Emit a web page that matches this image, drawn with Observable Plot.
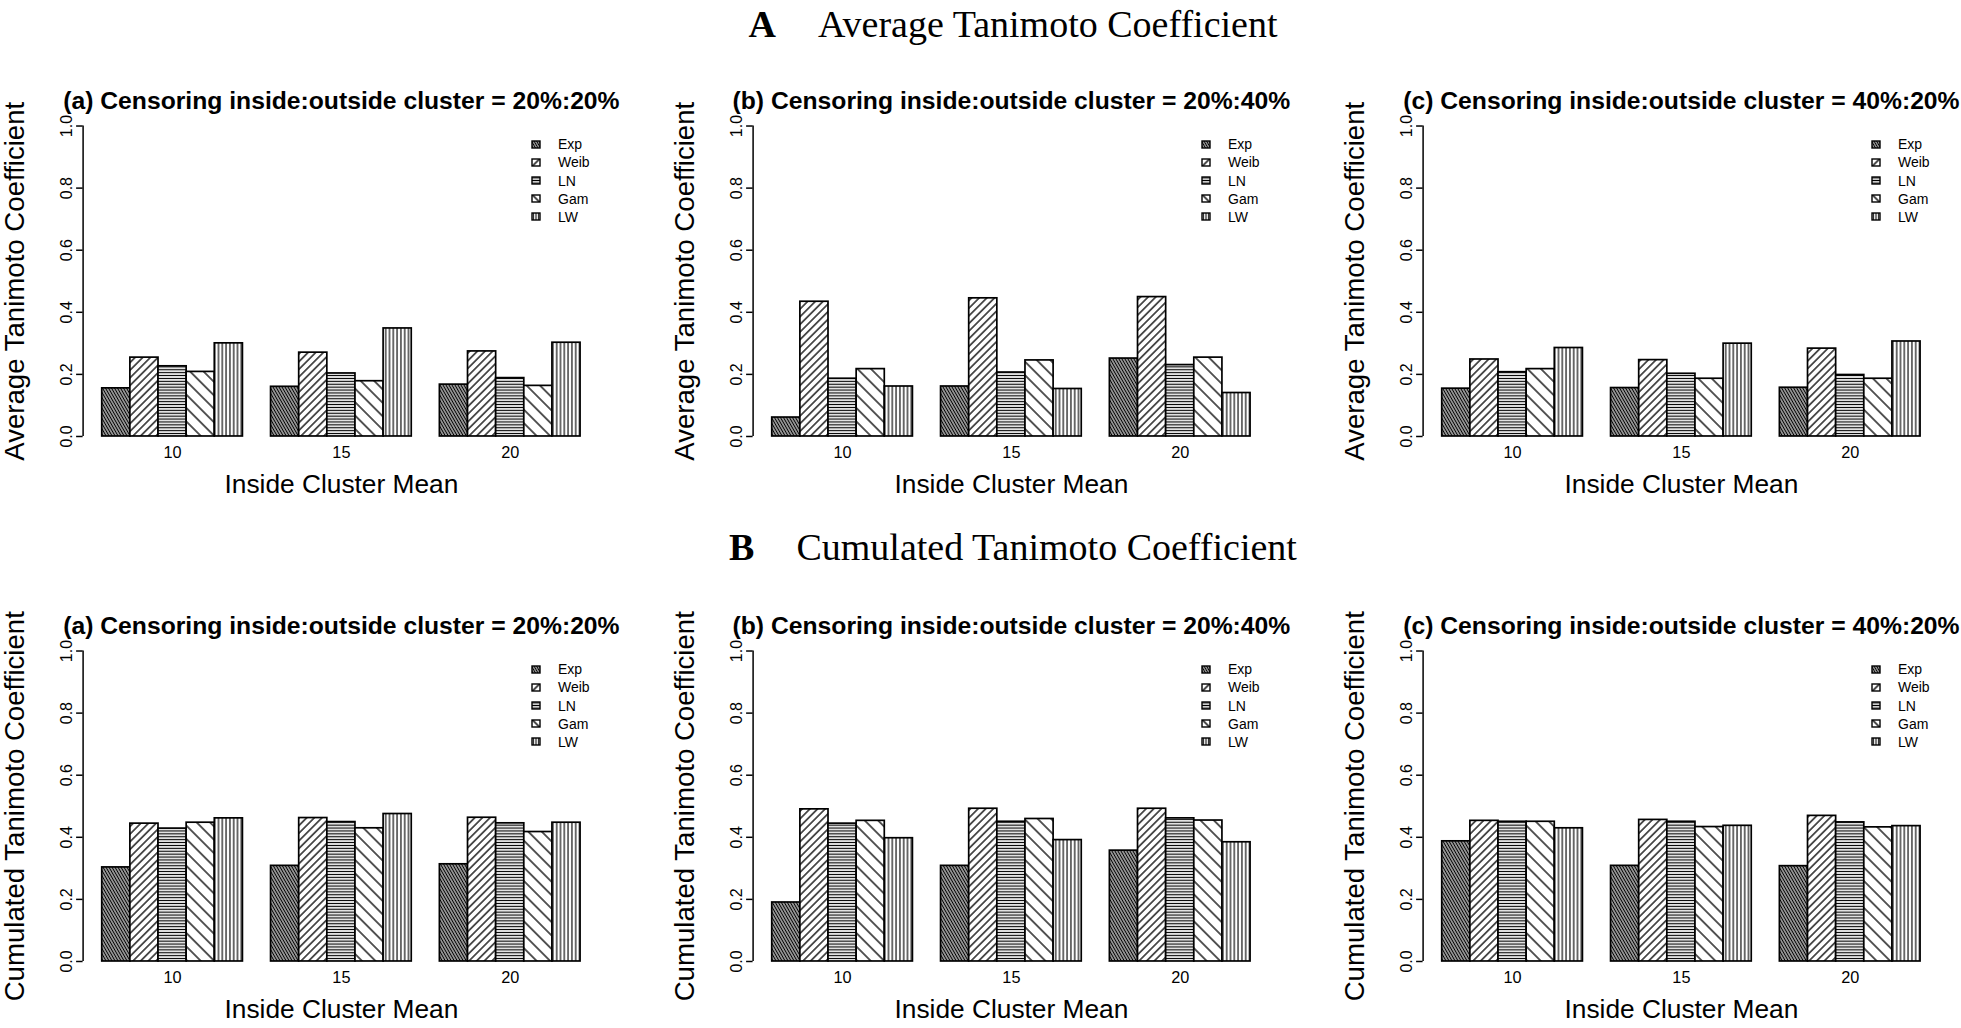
<!DOCTYPE html>
<html><head><meta charset="utf-8">
<script src="https://cdn.jsdelivr.net/npm/d3@7"></script>
<script src="https://cdn.jsdelivr.net/npm/@observablehq/plot@0.6"></script>
<style>
html,body{margin:0;padding:0;background:#fff;width:1961px;height:1028px;overflow:hidden;}
#root{position:relative;width:1961px;height:1028px;overflow:hidden;}
.abs{position:absolute;}
.fig-title{font-family:"Liberation Serif","Times New Roman",serif;font-size:38px;line-height:38px;white-space:nowrap;color:#000;text-align:center;}
.leg{font-family:"Liberation Sans",Arial,sans-serif;font-size:14px;line-height:14px;white-space:nowrap;color:#000;}
svg{overflow:visible;}
</style></head><body><div id="root"></div>
<script>
// ---------------- data ----------------
const groups = ["10", "15", "20"];
const series = ["Exp", "Weib", "LN", "Gam", "LW"];
const yTicks = [0, 0.2, 0.4, 0.6, 0.8, 1.0];
const xLabel = "Inside Cluster Mean";

const figTitleA = "Average Tanimoto Coefficient";
const figTitleB = "Cumulated Tanimoto Coefficient";
const yLabelA = "Average Tanimoto Coefficient";
const yLabelB = "Cumulated Tanimoto Coefficient";
const subTitles = [
  "(a) Censoring inside:outside cluster = 20%:20%",
  "(b) Censoring inside:outside cluster = 20%:40%",
  "(c) Censoring inside:outside cluster = 40%:20%"
];

// rows: groups (10, 15, 20); columns: Exp, Weib, LN, Gam, LW
const avg_a = [[0.155, 0.254, 0.226, 0.208, 0.300], [0.160, 0.270, 0.203, 0.178, 0.348], [0.167, 0.274, 0.188, 0.163, 0.302]];
const avg_b = [[0.061, 0.434, 0.186, 0.217, 0.161], [0.161, 0.445, 0.206, 0.245, 0.153], [0.251, 0.449, 0.230, 0.254, 0.140]];
const avg_c = [[0.154, 0.248, 0.207, 0.217, 0.285], [0.156, 0.246, 0.202, 0.186, 0.299], [0.157, 0.283, 0.198, 0.186, 0.306]];
const cum_a = [[0.303, 0.444, 0.428, 0.447, 0.461], [0.308, 0.462, 0.449, 0.429, 0.475], [0.313, 0.463, 0.445, 0.417, 0.447]];
const cum_b = [[0.190, 0.490, 0.444, 0.453, 0.397], [0.308, 0.492, 0.450, 0.459, 0.391], [0.357, 0.492, 0.461, 0.454, 0.384]];
const cum_c = [[0.387, 0.453, 0.450, 0.450, 0.429], [0.308, 0.456, 0.450, 0.433, 0.437], [0.307, 0.469, 0.448, 0.432, 0.436]];

// ---------------- hatch patterns (style) ----------------
const patSpec = {
  Exp:  {angle: -30, gap: 2.6, w: 1.6},
  Weib: {angle: 45,  gap: 5.4, w: 1.3},
  LN:   {angle: 90,  gap: 2.9, w: 1.2},
  Gam:  {angle: -45, gap: 9.5, w: 1.3},
  LW:   {angle: 0,   gap: 3.8, w: 1.15}
};
const legSpec = {
  Exp:  {angle: -30, gap: 2.2, w: 1.4},
  Weib: {angle: 45,  gap: 12, w: 1.4},
  LN:   {angle: 90,  gap: 2.6, w: 1.2},
  Gam:  {angle: -45, gap: 12, w: 1.4},
  LW:   {angle: 0,   gap: 2.7, w: 1.1}
};
const root = document.getElementById("root");
const NS = "http://www.w3.org/2000/svg";
const defsSvg = document.createElementNS(NS, "svg");
defsSvg.setAttribute("width", 0); defsSvg.setAttribute("height", 0);
defsSvg.style.position = "absolute";
const defs = document.createElementNS(NS, "defs");
function makePattern(id, p, transform) {
  const pat = document.createElementNS(NS, "pattern");
  pat.setAttribute("id", id);
  pat.setAttribute("patternUnits", "userSpaceOnUse");
  pat.setAttribute("width", p.gap); pat.setAttribute("height", p.gap);
  pat.setAttribute("patternTransform", transform);
  const bg = document.createElementNS(NS, "rect");
  bg.setAttribute("x", -1); bg.setAttribute("y", -1);
  bg.setAttribute("width", p.gap + 2); bg.setAttribute("height", p.gap + 2); bg.setAttribute("fill", "white");
  pat.appendChild(bg);
  const ln = document.createElementNS(NS, "line");
  ln.setAttribute("x1", p.gap / 2); ln.setAttribute("x2", p.gap / 2);
  ln.setAttribute("y1", -1); ln.setAttribute("y2", p.gap + 1);
  ln.setAttribute("stroke", "black"); ln.setAttribute("stroke-width", p.w);
  pat.appendChild(ln);
  defs.appendChild(pat);
}
for (const s of series) {
  makePattern("pat-" + s, patSpec[s], `rotate(${patSpec[s].angle})`);
  const q = legSpec[s];
  makePattern("leg-" + s, q, `translate(5,4.5) rotate(${q.angle}) translate(${-q.gap / 2},0)`);
}
defsSvg.appendChild(defs);
root.appendChild(defsSvg);

// ---------------- layout ----------------
const PW = 670, PH = 525;
const M = {left: 82.6, right: 70.8, top: 113.1, bottom: 76.6};

function panel(values, subtitle, ylabel) {
  const per = series.length + 1;
  const rows = [];
  groups.forEach((g, gi) => series.forEach((s, si) =>
    rows.push({group: g, series: s, value: values[gi][si], x1: gi * per + 1 + si, x2: gi * per + 2 + si})));
  const xmin = 1, xmax = groups.length * per;
  const pad = 0.04 * (xmax - xmin);
  const centers = groups.map((g, gi) => ({label: g, x: gi * per + 1 + series.length / 2}));
  return Plot.plot({
    width: PW, height: PH,
    marginLeft: M.left, marginRight: M.right, marginTop: M.top, marginBottom: M.bottom,
    x: {domain: [xmin - pad, xmax + pad], axis: null},
    y: {domain: [-0.04, 1.04], axis: null},
    color: {domain: series, range: series.map(s => `url(#pat-${s})`)},
    style: {fontFamily: "Liberation Sans, Arial, sans-serif", background: "transparent", color: "black", overflow: "visible"},
    marks: [
      Plot.rectY(rows, {x1: "x1", x2: "x2", y1: 0, y2: "value", fill: "series", stroke: "black", strokeWidth: 1.7}),
      Plot.ruleX([xmin - pad], {y1: 0, y2: 1, stroke: "black", strokeWidth: 1.5}),
      Plot.axisY({ticks: yTicks, label: null, tickSize: 6.5, tickRotate: -90, tickPadding: 5, tickFormat: d => d.toFixed(1), fontSize: 16, stroke: "black", strokeWidth: 1.5}),
      Plot.text(centers, {x: "x", text: "label", frameAnchor: "bottom", lineAnchor: "middle", dy: 4, fontSize: 16.3}),
      Plot.text([xLabel], {frameAnchor: "bottom", lineAnchor: "middle", textAnchor: "middle", dy: 36, fontSize: 26.3}),
      Plot.text([ylabel], {frameAnchor: "left", textAnchor: "middle", lineAnchor: "middle", dx: -67.5, rotate: -90, fontSize: 27.6}),
      Plot.text([subtitle], {frameAnchor: "top", textAnchor: "middle", lineAnchor: "middle", dy: -12.5, fontSize: 24.7, fontWeight: "bold"})
    ]
  });
}

function legend(left, top) {
  const rowY = [144, 162.2, 180.4, 198.6, 216.8];
  series.forEach((s, i) => {
    const sq = document.createElementNS(NS, "svg");
    sq.setAttribute("width", 10); sq.setAttribute("height", 9);
    sq.style.position = "absolute";
    sq.style.left = (left + 531) + "px";
    sq.style.top = (top + rowY[i] - 4.5) + "px";
    const r = document.createElementNS(NS, "rect");
    r.setAttribute("x", 1); r.setAttribute("y", 1); r.setAttribute("width", 8); r.setAttribute("height", 7);
    r.setAttribute("fill", `url(#leg-${s})`); r.setAttribute("stroke", "black"); r.setAttribute("stroke-width", 1.4);
    sq.appendChild(r);
    root.appendChild(sq);
    const t = document.createElement("div");
    t.className = "abs leg";
    t.style.left = (left + 558) + "px";
    t.style.top = (top + rowY[i] - 6.9) + "px";
    t.textContent = s;
    root.appendChild(t);
  });
}

function figTitle(letter, text, top) {
  const d = document.createElement("div");
  d.className = "abs fig-title";
  d.style.left = "513px"; d.style.width = "1000px"; d.style.top = top + "px";
  const b = document.createElement("b"); b.textContent = letter;
  const sp = document.createElement("span"); sp.style.display = "inline-block"; sp.style.width = "42px";
  d.appendChild(b); d.appendChild(sp); d.appendChild(document.createTextNode(text));
  root.appendChild(d);
}

const rowsDef = [
  {top: 0, letter: "A", title: figTitleA, ylabel: yLabelA, data: [avg_a, avg_b, avg_c], titleTop: 5},
  {top: 525, letter: "B", title: figTitleB, ylabel: yLabelB, data: [cum_a, cum_b, cum_c], titleTop: 528}
];
for (const row of rowsDef) {
  figTitle(row.letter, row.title, row.titleTop);
  row.data.forEach((vals, j) => {
    const el = panel(vals, subTitles[j], row.ylabel);
    el.style.position = "absolute";
    el.style.left = (j * 670) + "px";
    el.style.top = row.top + "px";
    root.appendChild(el);
    legend(j * 670, row.top);
  });
}
</script></body></html>
